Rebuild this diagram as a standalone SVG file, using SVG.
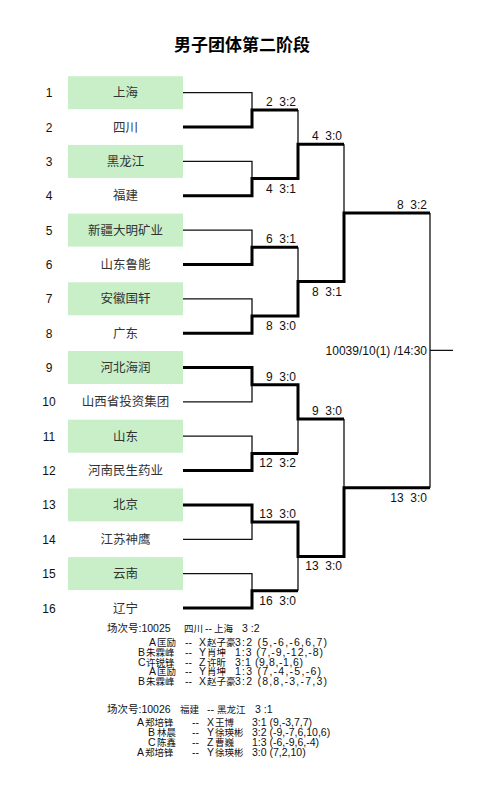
<svg xmlns="http://www.w3.org/2000/svg" width="491" height="786" viewBox="0 0 491 786">
<style>
text{font-family:"Liberation Sans","Noto Sans CJK SC",sans-serif;fill:#111}
.title{font-size:17px;font-weight:bold;text-anchor:middle;fill:#000}
.num{font-size:12px;text-anchor:middle}
.name{font-size:12.5px;text-anchor:middle;fill:#333}
.box{fill:#c8efc8}
.thin{stroke:#111;stroke-width:1.3;fill:none}
.thick{stroke:#000;stroke-width:3;fill:none;stroke-linejoin:miter}
.lbl{font-size:12px;text-anchor:end;white-space:pre}
.s{font-size:10.5px;white-space:pre}
.c{font-size:9.5px}
</style>
<rect width="491" height="786" fill="#fff"/>
<text class="title" x="242" y="51">男子团体第二阶段</text>

<g id="t1"><text class="num" x="49" y="97">1</text><rect class="box" x="68" y="76.2" width="115" height="33"/><text class="name" x="125.5" y="97">上海</text></g>
<g id="t2"><text class="num" x="49" y="131.5">2</text><text class="name" x="125.5" y="131.5">四川</text></g>
<g id="t3"><text class="num" x="49" y="165.9">3</text><rect class="box" x="68" y="144.9" width="115" height="33"/><text class="name" x="125.5" y="165.9">黑龙江</text></g>
<g id="t4"><text class="num" x="49" y="200.3">4</text><text class="name" x="125.5" y="200.3">福建</text></g>
<g id="t5"><text class="num" x="49" y="234.6">5</text><rect class="box" x="68" y="213.6" width="115" height="33"/><text class="name" x="125.5" y="234.6">新疆大明矿业</text></g>
<g id="t6"><text class="num" x="49" y="269">6</text><text class="name" x="125.5" y="269">山东鲁能</text></g>
<g id="t7"><text class="num" x="49" y="303.3">7</text><rect class="box" x="68" y="282.3" width="115" height="33"/><text class="name" x="125.5" y="303.3">安徽国轩</text></g>
<g id="t8"><text class="num" x="49" y="337.7">8</text><text class="name" x="125.5" y="337.7">广东</text></g>
<g id="t9"><text class="num" x="49" y="372">9</text><rect class="box" x="68" y="351" width="115" height="33"/><text class="name" x="125.5" y="372">河北海润</text></g>
<g id="t10"><text class="num" x="49" y="406.4">10</text><text class="name" x="125.5" y="406.4">山西省投资集团</text></g>
<g id="t11"><text class="num" x="49" y="440.7">11</text><rect class="box" x="68" y="419.7" width="115" height="33"/><text class="name" x="125.5" y="440.7">山东</text></g>
<g id="t12"><text class="num" x="49" y="475.1">12</text><text class="name" x="125.5" y="475.1">河南民生药业</text></g>
<g id="t13"><text class="num" x="49" y="509.4">13</text><rect class="box" x="68" y="488.4" width="115" height="33"/><text class="name" x="125.5" y="509.4">北京</text></g>
<g id="t14"><text class="num" x="49" y="543.8">14</text><text class="name" x="125.5" y="543.8">江苏神鹰</text></g>
<g id="t15"><text class="num" x="49" y="578.1">15</text><rect class="box" x="68" y="557.1" width="115" height="33"/><text class="name" x="125.5" y="578.1">云南</text></g>
<g id="t16"><text class="num" x="49" y="612.5">16</text><text class="name" x="125.5" y="612.5">辽宁</text></g>

<g id="connectors">
<path class="thin" d="M183 92.7H252V109.9M183 161.4H252V178.6M183 230.1H252V247.3M183 298.8H252V316M183 401.9H252V384.7M183 436.2H252V453.4M183 539.3H252V522.1M183 573.6H252V590.8"/>
<path class="thin" d="M298 109.9V144.2M298 247.3V281.6M298 453.4V419M298 590.8V556.4M344 144.2V212.9M344 419V487.7M430 212.9V487.7M430 350.3H453"/>
<path class="thick" d="M183 127H252V109.9H298"/>
<path class="thick" d="M183 195.8H252V178.6H298V144.2H344"/>
<path class="thick" d="M183 264.5H252V247.3H298"/>
<path class="thick" d="M183 333.2H252V316H298V281.6H344V212.9H430"/>
<path class="thick" d="M183 367.5H252V384.7H298V419H344"/>
<path class="thick" d="M183 470.6H252V453.4H298"/>
<path class="thick" d="M183 504.9H252V522.1H298V556.4H344V487.7H430"/>
<path class="thick" d="M183 608H252V590.8H298"/>
<text class="lbl" x="296" y="106">2  3:2</text>
<text class="lbl" x="296" y="192.6">4  3:1</text>
<text class="lbl" x="296" y="243.3">6  3:1</text>
<text class="lbl" x="296" y="330">8  3:0</text>
<text class="lbl" x="296" y="380.7">9  3:0</text>
<text class="lbl" x="296" y="467.4">12  3:2</text>
<text class="lbl" x="296" y="518.1">13  3:0</text>
<text class="lbl" x="296" y="604.8">16  3:0</text>
<text class="lbl" x="342" y="140.2">4  3:0</text>
<text class="lbl" x="342" y="295.6">8  3:1</text>
<text class="lbl" x="342" y="415">9  3:0</text>
<text class="lbl" x="342" y="570.4">13  3:0</text>
<text class="lbl" x="427" y="208.9">8  3:2</text>
<text class="lbl" x="427" y="501.7">13  3:0</text>
<text class="lbl" x="427" y="355">10039/10(1) /14:30</text>
</g>

<g id="match10025">
<text class="s" x="107" y="632">场次号:10025</text><text class="s c" x="184" y="632">四川</text><text class="s" x="205" y="632">--</text><text class="s c" x="214" y="632">上海</text><text class="s" x="242" y="632">3 :2</text>

<text class="s" x="149" y="646">A</text><text class="s c" x="157" y="646">匡励</text><text class="s" x="185" y="646">--</text><text class="s" x="199" y="646">X</text><text class="s c" x="207" y="646">赵子豪</text><text class="s" x="235" y="646" textLength="92">3:2 (5,-6,-6,6,7)</text>

<text class="s" x="138" y="655.8">B</text><text class="s c" x="146" y="655.8">朱霖峰</text><text class="s" x="185" y="655.8">--</text><text class="s" x="199" y="655.8">Y</text><text class="s c" x="207" y="655.8">肖坤</text><text class="s" x="235" y="655.8" textLength="88">1:3 (7,-9,-12,-8)</text>

<text class="s" x="138" y="665.6">C</text><text class="s c" x="146" y="665.6">许锐锋</text><text class="s" x="185" y="665.6">--</text><text class="s" x="199" y="665.6">Z</text><text class="s c" x="207" y="665.6">许昕</text><text class="s" x="235" y="665.6" textLength="68">3:1 (9,8,-1,6)</text>

<text class="s" x="149" y="675.4">A</text><text class="s c" x="157" y="675.4">匡励</text><text class="s" x="185" y="675.4">--</text><text class="s" x="199" y="675.4">Y</text><text class="s c" x="207" y="675.4">肖坤</text><text class="s" x="235" y="675.4" textLength="86">1:3 (7,-4,-5,-6)</text>

<text class="s" x="138" y="685.2">B</text><text class="s c" x="146" y="685.2">朱霖峰</text><text class="s" x="185" y="685.2">--</text><text class="s" x="199" y="685.2">X</text><text class="s c" x="207" y="685.2">赵子豪</text><text class="s" x="235" y="685.2" textLength="92">3:2 (8,8,-3,-7,3)</text>
</g>

<g id="match10026">
<text class="s" x="107" y="713">场次号:10026</text><text class="s c" x="180" y="713">福建</text><text class="s" x="207" y="713">--</text><text class="s c" x="217" y="713">黑龙江</text><text class="s" x="255" y="713">3 :1</text>

<text class="s" x="137" y="725.5">A</text><text class="s c" x="145" y="725.5">郑培锋</text><text class="s" x="192" y="725.5">--</text><text class="s" x="207" y="725.5">X</text><text class="s c" x="215" y="725.5">王博</text><text class="s" x="252" y="725.5">3:1 (9,-3,7,7)</text>

<text class="s" x="148" y="735.5">B</text><text class="s c" x="157" y="735.5">林晨</text><text class="s" x="192" y="735.5">--</text><text class="s" x="207" y="735.5">Y</text><text class="s c" x="215" y="735.5">徐瑛彬</text><text class="s" x="252" y="735.5">3:2 (-9,-7,6,10,6)</text>

<text class="s" x="148" y="745.5">C</text><text class="s c" x="157" y="745.5">陈鑫</text><text class="s" x="192" y="745.5">--</text><text class="s" x="207" y="745.5">Z</text><text class="s c" x="215" y="745.5">曹巍</text><text class="s" x="252" y="745.5">1:3 (-6,-9,6,-4)</text>

<text class="s" x="137" y="755.5">A</text><text class="s c" x="145" y="755.5">郑培锋</text><text class="s" x="192" y="755.5">--</text><text class="s" x="207" y="755.5">Y</text><text class="s c" x="215" y="755.5">徐瑛彬</text><text class="s" x="252" y="755.5">3:0 (7,2,10)</text>
</g>
</svg>
